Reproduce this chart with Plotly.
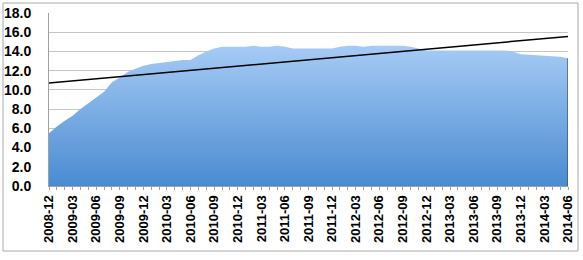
import numpy as np
import plotly.graph_objects as go

# ---- data ----
start_year, start_month = 2008, 12
n_months = 67
months = []
y, m = start_year, start_month
for _ in range(n_months):
    months.append(f"{y}-{m:02d}")
    m += 1
    if m > 12:
        m = 1
        y += 1

values = [
    5.5, 6.2, 6.8, 7.3, 8.0, 8.6, 9.2, 9.8, 10.8, 11.3,
    11.85, 12.2, 12.5, 12.7, 12.8, 12.9, 13.0, 13.1, 13.1, 13.6,
    14.0, 14.3, 14.5, 14.5, 14.5, 14.5, 14.6, 14.5, 14.5, 14.6,
    14.5, 14.3, 14.3, 14.3, 14.3, 14.3, 14.3, 14.5, 14.6, 14.6,
    14.5, 14.6, 14.6, 14.6, 14.6, 14.6, 14.5, 14.3, 14.1, 14.1,
    14.1, 14.1, 14.1, 14.1, 14.1, 14.1, 14.1, 14.1, 14.1, 14.0,
    13.7, 13.65, 13.6, 13.55, 13.5, 13.45, 13.3,
]

tick_labels = [lab if i % 3 == 0 else "" for i, lab in enumerate(months)]
y_ticks = [0, 2, 4, 6, 8, 10, 12, 14, 16, 18]

# linear trendline fitted to the data
idx = np.arange(len(values))
slope, intercept = np.polyfit(idx, values, 1)
trend = slope * idx + intercept

W, H = 583, 260
L, R, T, B = 49, 15, 13, 74

fig = go.Figure()
fig.add_trace(go.Scatter(
    x=months, y=values, mode="none", fill="tozeroy",
    fillgradient=dict(type="vertical", start=0, stop=14.6,
                      colorscale=[[0, "#4a8bd1"], [1, "#a6cbf5"]]),
    hoverinfo="skip", showlegend=False,
))
# dark right edge of the area
fig.add_trace(go.Scatter(
    x=[months[-1], months[-1]], y=[0, values[-1]], mode="lines",
    line=dict(color="#3a4a5c", width=1.2), showlegend=False, hoverinfo="skip",
))
fig.add_trace(go.Scatter(
    x=months, y=trend, mode="lines",
    line=dict(color="#000000", width=1.5), showlegend=False,
))

font_family = "Liberation Sans, Arial, sans-serif"
fig.update_layout(
    width=W, height=H,
    margin=dict(l=L, r=R, t=T, b=B, autoexpand=False),
    paper_bgcolor="white", plot_bgcolor="white",
    xaxis=dict(
        type="category", range=[0, n_months - 1],
        tickvals=months, ticktext=tick_labels, tickangle=-90,
        ticks="outside", ticklen=3, tickcolor="#a0a0a0",
        showgrid=False, showline=True, linecolor="#a0a0a0", linewidth=1,
        tickfont=dict(family=font_family, size=13, color="#000000", weight="bold"),
        zeroline=False, automargin=False,
    ),
    yaxis=dict(
        range=[0, 18], tickvals=y_ticks, tickformat=".1f",
        showgrid=True, gridcolor="#c4c4c4", gridwidth=1,
        showline=True, linecolor="#a0a0a0", linewidth=1,
        ticks="", ticklabelstandoff=14,
        tickfont=dict(family=font_family, size=14, color="#000000", weight="bold"),
        zeroline=False, automargin=False,
    ),
    shapes=[dict(
        type="rect", xref="paper", yref="paper",
        x0=(3 - L) / (W - L - R), x1=(578 - L) / (W - L - R),
        y0=(H - B - 251) / (H - T - B), y1=(H - B - 3) / (H - T - B),
        line=dict(color="#a8a8a8", width=1), layer="below",
    )],
)

fig.write_html("out.html")
